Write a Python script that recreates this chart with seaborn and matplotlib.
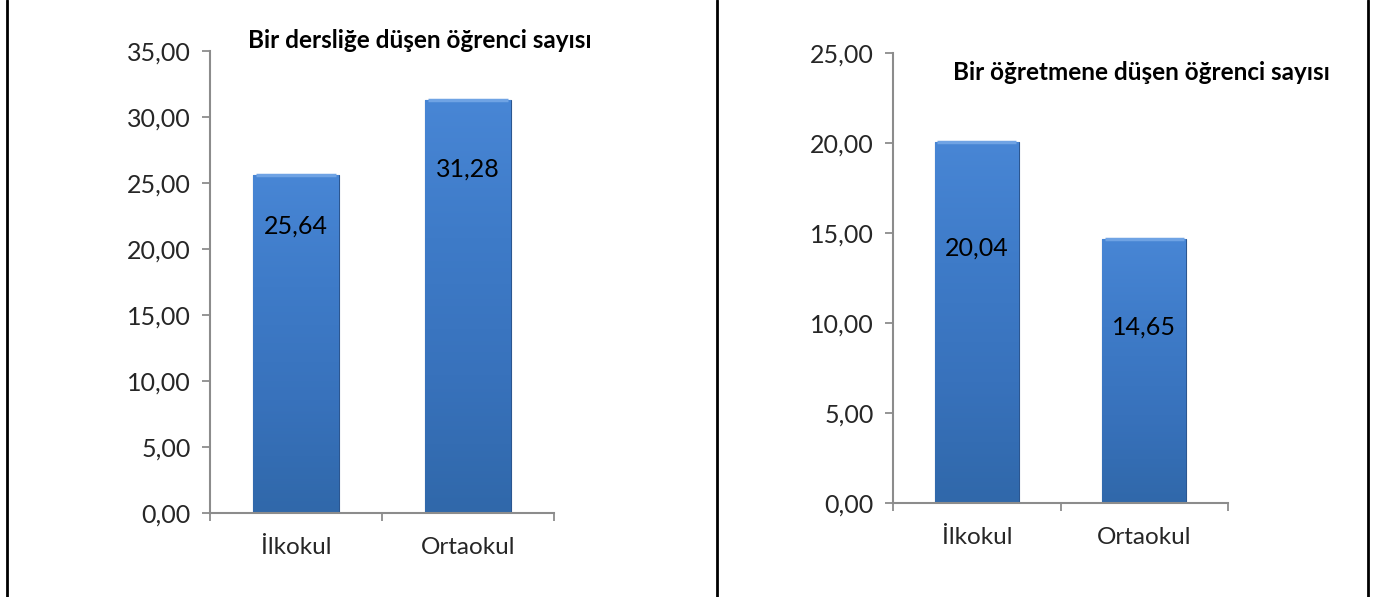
import numpy as np
import pandas as pd
import matplotlib
matplotlib.use("Agg")
import matplotlib.pyplot as plt
import seaborn as sns
from matplotlib.lines import Line2D
from matplotlib.colors import LinearSegmentedColormap

# ---- data ----
categories = ["İlkokul", "Ortaokul"]
derslik_values = [25.64, 31.28]
ogretmen_values = [20.04, 14.65]
derslik_title = "Bir dersliğe düşen öğrenci sayısı"
ogretmen_title = "Bir öğretmene düşen öğrenci sayısı"
derslik_yticks = [0, 5, 10, 15, 20, 25, 30, 35]
ogretmen_yticks = [0, 5, 10, 15, 20, 25]

sns.set_theme(style="white")
plt.rcParams['font.family'] = ['Lato', 'DejaVu Sans']

W, H = 1379, 597
fig = plt.figure(figsize=(W / 100, H / 100), dpi=100)
fig.patch.set_facecolor("white")

AX_GRAY = "#8c8c8c"
cmap = LinearSegmentedColormap.from_list(
    "bar", ["#4886d5", "#3e7bc8", "#3872bc", "#3068aa"])


def px_ax(x0, x1, ybottom, ytop):
    return [x0 / W, (H - ybottom) / H, (x1 - x0) / W, (ybottom - ytop) / H]


def fmt(v):
    return f"{v:.2f}".replace(".", ",")


def draw(ax, values, yticks, title, title_xy, label_offsets_px):
    df = pd.DataFrame({"cat": categories, "val": values})
    sns.barplot(data=df, x="cat", y="val", ax=ax, color="#3b76c2",
                width=0.5, saturation=1, edgecolor="#2b5690", linewidth=0.8)
    ax.set_xlim(-0.5, 1.5)
    ax.set_ylim(yticks[0], yticks[-1])
    ax.set_yticks(yticks)
    ax.set_yticklabels([fmt(t) for t in yticks], fontsize=18)
    ax.set_xticks([-0.5, 0.5, 1.5])
    ax.set_xticklabels(["", "", ""])
    ax.set_xticks([0, 1], minor=True)
    ax.set_xticklabels(categories, minor=True, fontsize=17.5)
    ax.tick_params(axis="x", which="minor", length=0, pad=17)
    ax.tick_params(axis="both", which="major", length=6, width=1.3,
                   color=AX_GRAY, direction="out", pad=8)
    ax.tick_params(axis="y", which="major", left=True)
    ax.tick_params(axis="x", which="major", bottom=True)
    for s in ["top", "right"]:
        ax.spines[s].set_visible(False)
    for s in ["left", "bottom"]:
        ax.spines[s].set_color(AX_GRAY)
        ax.spines[s].set_linewidth(1.5)
    ax.set_xlabel("")
    ax.set_ylabel("")
    ax.set_facecolor("white")
    # gradient fill clipped to each bar (light at top, dark at bottom)
    grad = np.linspace(0, 1, 256).reshape(-1, 1)
    for p, v, off in zip(ax.patches, values, label_offsets_px):
        x0 = p.get_x()
        w = p.get_width()
        h = p.get_height()
        im = ax.imshow(grad, aspect="auto", cmap=cmap, origin="upper",
                       extent=[x0, x0 + w, 0, h], zorder=p.get_zorder() + 0.1)
        im.set_clip_path(p)
        # bevel highlight on top
        ax.plot([x0 + w * 0.03, x0 + w * 0.97], [h, h], color="#6fa3e4",
                lw=2.5, zorder=p.get_zorder() + 0.2, solid_capstyle="butt")
        ax.annotate(fmt(v), (x0 + w / 2, h), xytext=(0, -off * 0.72),
                    textcoords="offset points", ha="center", va="center",
                    fontsize=18, color="black", zorder=5)
    ax.set_xlim(-0.5, 1.5)
    ax.set_ylim(yticks[0], yticks[-1])
    fig.text(title_xy[0] / W, 1 - title_xy[1] / H, title, ha="center",
             va="center", fontsize=17.5, fontweight="bold", color="black")


ax1 = fig.add_axes(px_ax(210, 554, 513, 51))
draw(ax1, derslik_values, derslik_yticks, derslik_title, (420, 40), [52, 69])

ax2 = fig.add_axes(px_ax(893, 1228, 503, 53))
draw(ax2, ogretmen_values, ogretmen_yticks, ogretmen_title, (1141, 73), [106, 88])

for xp in [7, 717, 1368]:
    fig.add_artist(Line2D([xp / W, xp / W], [0, 1], color="black", lw=2,
                          transform=fig.transFigure))

fig.savefig("out.png", dpi=100, facecolor="white")
